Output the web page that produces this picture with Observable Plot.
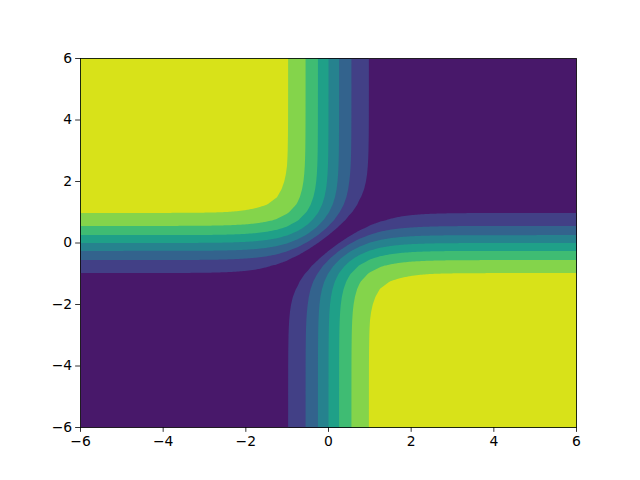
<!DOCTYPE html>
<html>
<head>
<meta charset="utf-8">
<script src="https://cdn.jsdelivr.net/npm/d3@7"></script>
<script src="https://cdn.jsdelivr.net/npm/@observablehq/plot@0.6"></script>
<style>
  html, body { margin: 0; padding: 0; background: #fff; }
  #chart { width: 640px; height: 480px; }
</style>
</head>
<body>
<div id="chart"></div>
<script>
// Contour levels (band lower bounds): 8 bands from 0 to 2
const levels = [0, 0.25, 0.5, 0.75, 1.0, 1.25, 1.5, 1.75];
// Band colours (viridis at band midpoints)
const bandColors = ["#48186a", "#424086", "#33638d", "#26828e", "#1fa088", "#3fbc73", "#84d44b", "#d8e219"];
const profileT = [0, 0.25, 0.5, 0.75, 1.0, 1.25, 1.5, 1.75, 2.0, 2.25, 2.5, 2.75, 3.0, 3.5, 4.0, 5.0, 6.0];
const profileP = [0, 0.2449, 0.4621, 0.6351, 0.7616, 0.8483, 0.9051, 0.9414, 0.9640, 0.9780, 0.9866, 0.9919, 0.9951, 0.9982, 0.9993, 0.9999, 1.0];
// Axis ticks
const xTicks = [-6, -4, -2, 0, 2, 4, 6];
const yTicks = [-6, -4, -2, 0, 2, 4, 6];

function profile(t) {
  const a = Math.abs(t);
  let i = d3.bisectRight(profileT, a) - 1;
  if (i >= profileT.length - 1) return Math.sign(t) * profileP[profileP.length - 1];
  if (i < 0) i = 0;
  const u = (a - profileT[i]) / (profileT[i + 1] - profileT[i]);
  return Math.sign(t) * (profileP[i] + u * (profileP[i + 1] - profileP[i]));
}
const field = (x, y) => Math.abs(profile(y) - profile(x));
const fmt = d => (d < 0 ? "\u2212" : "") + Math.abs(d);

const chart = Plot.plot({
  width: 640,
  height: 480,
  marginLeft: 80,
  marginRight: 64,
  marginTop: 58,
  marginBottom: 53,
  style: { fontFamily: "DejaVu Sans", fontSize: "13.9px", color: "black", background: "white" },
  x: { domain: [-6, 6] },
  y: { domain: [-6, 6] },
  color: { type: "ordinal", domain: levels, range: bandColors },
  marks: [
    Plot.contour({
      x1: -6, y1: -6, x2: 6, y2: 6,
      value: field,
      fill: "value",
      thresholds: levels,
      pixelSize: 1,
      stroke: "none"
    }),
    Plot.frame({ stroke: "black", strokeWidth: 0.8 }),
    Plot.axisX({ ticks: xTicks, tickFormat: fmt, tickSize: 4.86, tickPadding: 3.5, strokeWidth: 0.8, label: null, fontSize: 13.9 }),
    Plot.axisY({ ticks: yTicks, tickFormat: fmt, tickSize: 4.86, tickPadding: 3.5, strokeWidth: 0.8, label: null, fontSize: 13.9 })
  ]
});
document.getElementById("chart").appendChild(chart);
</script>
</body>
</html>
